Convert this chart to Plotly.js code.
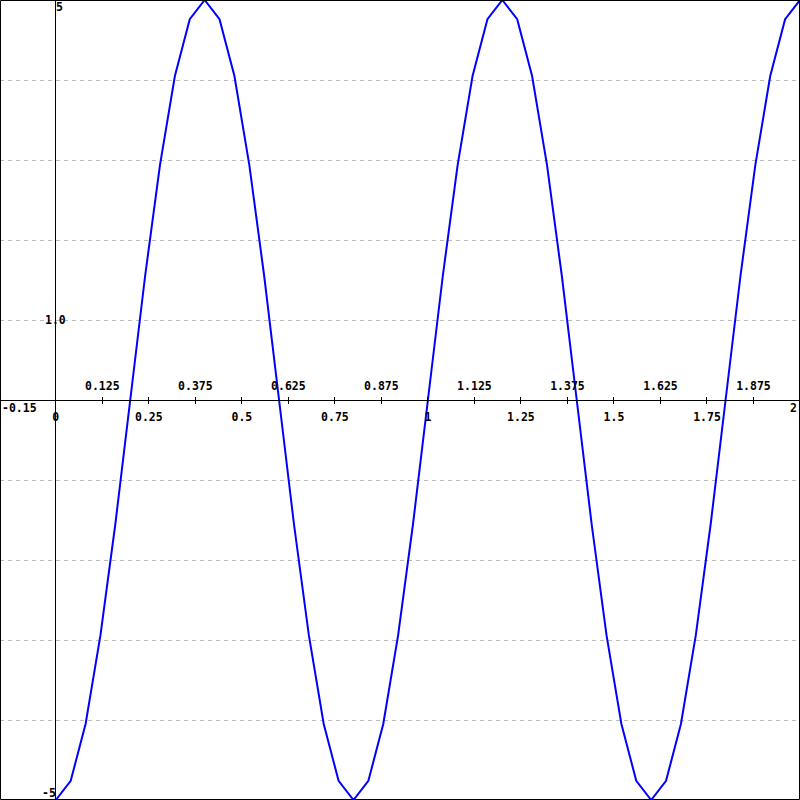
<!DOCTYPE html>
<html>
<head>
<meta charset="utf-8">
<script src="https://cdn.plot.ly/plotly-3.0.1.min.js"></script>
<style>html,body{margin:0;padding:0;background:#fff;}#chart{width:800px;height:800px;}</style>
</head>
<body>
<div id="chart"></div>
<script>
var xValues = [0, 0.04, 0.08, 0.12, 0.16, 0.20, 0.24, 0.28, 0.32, 0.36,
  0.40, 0.44, 0.48, 0.52, 0.56, 0.60, 0.64, 0.68, 0.72, 0.76,
  0.80, 0.84, 0.88, 0.92, 0.96, 1.00, 1.04, 1.08, 1.12, 1.16,
  1.20, 1.24, 1.28, 1.32, 1.36, 1.40, 1.44, 1.48, 1.52, 1.56,
  1.60, 1.64, 1.68, 1.72, 1.76, 1.80, 1.84, 1.88, 1.92, 1.96, 2.00];
var yValues = [-5, -4.76, -4.05, -2.94, -1.55, 0, 1.55, 2.94, 4.05, 4.76,
  5, 4.76, 4.05, 2.94, 1.55, 0, -1.55, -2.94, -4.05, -4.76,
  -5, -4.76, -4.05, -2.94, -1.55, 0, 1.55, 2.94, 4.05, 4.76,
  5, 4.76, 4.05, 2.94, 1.55, 0, -1.55, -2.94, -4.05, -4.76,
  -5, -4.76, -4.05, -2.94, -1.55, 0, 1.55, 2.94, 4.05, 4.76, 5];

// Axis ticks and labels
var xTickVals = [0, 0.125, 0.25, 0.375, 0.5, 0.625, 0.75, 0.875, 1, 1.125, 1.25, 1.375, 1.5, 1.625, 1.75, 1.875, 2];
var xLowerLabels = ['0', '', '0.25', '', '0.5', '', '0.75', '', '1', '', '1.25', '', '1.5', '', '1.75', '', ''];
var xUpperLabels = ['', '0.125', '', '0.375', '', '0.625', '', '0.875', '', '1.125', '', '1.375', '', '1.625', '', '1.875', ''];
var xRange = [-0.15, 2];
var yRange = [-5, 5];
var xMinLabel = '-0.15';
var xMaxLabel = '2';
var yTopLabel = '5';
var yMidLabel = '1.0';
var yMidValue = 1;
var yBottomLabel = '-5';

var tickFont = {family: 'DejaVu Sans Mono, Liberation Mono, monospace', size: 11.5, color: '#000', weight: 'bold'};

var trace = {
  x: xValues, y: yValues, type: 'scatter', mode: 'lines',
  line: {color: '#0000ff', width: 2}, hoverinfo: 'skip', cliponaxis: true
};
var dummyTop = {x: [xRange[0]], y: [0], xaxis: 'x2', yaxis: 'y', mode: 'markers', marker: {opacity: 0}, hoverinfo: 'skip', showlegend: false};

var yZeroFrac = (0 - yRange[0]) / (yRange[1] - yRange[0]);

var layout = {
  width: 800, height: 800,
  margin: {l: 0, r: 0, t: 0, b: 0, pad: 0},
  paper_bgcolor: '#fff', plot_bgcolor: '#fff',
  showlegend: false,
  xaxis: {
    range: xRange, anchor: 'free', position: yZeroFrac,
    showgrid: false, zeroline: true, zerolinecolor: '#000', zerolinewidth: 1,
    showline: true, linecolor: '#000', linewidth: 1,
    tickmode: 'array', tickvals: xTickVals, ticktext: xLowerLabels,
    ticks: 'outside', ticklen: 3, tickcolor: '#000', tickwidth: 1,
    tickfont: tickFont, ticklabelstandoff: 3, fixedrange: true
  },
  xaxis2: {
    range: xRange, overlaying: 'x', side: 'top', anchor: 'free', position: yZeroFrac,
    showgrid: false, zeroline: false, showline: false,
    tickmode: 'array', tickvals: xTickVals, ticktext: xUpperLabels,
    ticks: 'outside', ticklen: 3, tickcolor: '#000', tickwidth: 1,
    tickfont: tickFont, ticklabelstandoff: 2, fixedrange: true
  },
  yaxis: {
    range: yRange, showgrid: true, tick0: 0, dtick: 1,
    gridcolor: '#bbbbbb', griddash: '4px,4px', gridwidth: 1,
    zeroline: true, zerolinecolor: '#000', zerolinewidth: 1,
    showticklabels: false, ticks: '', showline: false, fixedrange: true
  },
  shapes: [{
    type: 'rect', xref: 'paper', yref: 'paper',
    x0: 0.5 / 800, x1: 799.5 / 800, y0: 0.5 / 800, y1: 799.5 / 800,
    line: {color: '#000', width: 1}, fillcolor: 'rgba(0,0,0,0)', layer: 'above'
  }],
  annotations: [
    {x: xRange[0], y: 0, xref: 'x', yref: 'y', text: xMinLabel, showarrow: false, xanchor: 'left', yanchor: 'top', yshift: 1, font: tickFont},
    {x: xRange[1], y: 0, xref: 'x', yref: 'y', text: xMaxLabel, showarrow: false, xanchor: 'right', yanchor: 'top', xshift: -1, yshift: 1, font: tickFont},
    {x: 0, y: yRange[1], xref: 'x', yref: 'y', text: yTopLabel, showarrow: false, xanchor: 'left', yanchor: 'top', xshift: -2, yshift: 2, font: tickFont},
    {x: 0, y: yMidValue, xref: 'x', yref: 'y', text: yMidLabel, showarrow: false, xanchor: 'center', yanchor: 'middle', font: tickFont},
    {x: 0, y: yRange[0], xref: 'x', yref: 'y', text: yBottomLabel, showarrow: false, xanchor: 'right', yanchor: 'bottom', xshift: 2, yshift: -2, font: tickFont}
  ]
};

Plotly.newPlot('chart', [trace, dummyTop], layout, {staticPlot: true, displayModeBar: false});
</script>
</body>
</html>
